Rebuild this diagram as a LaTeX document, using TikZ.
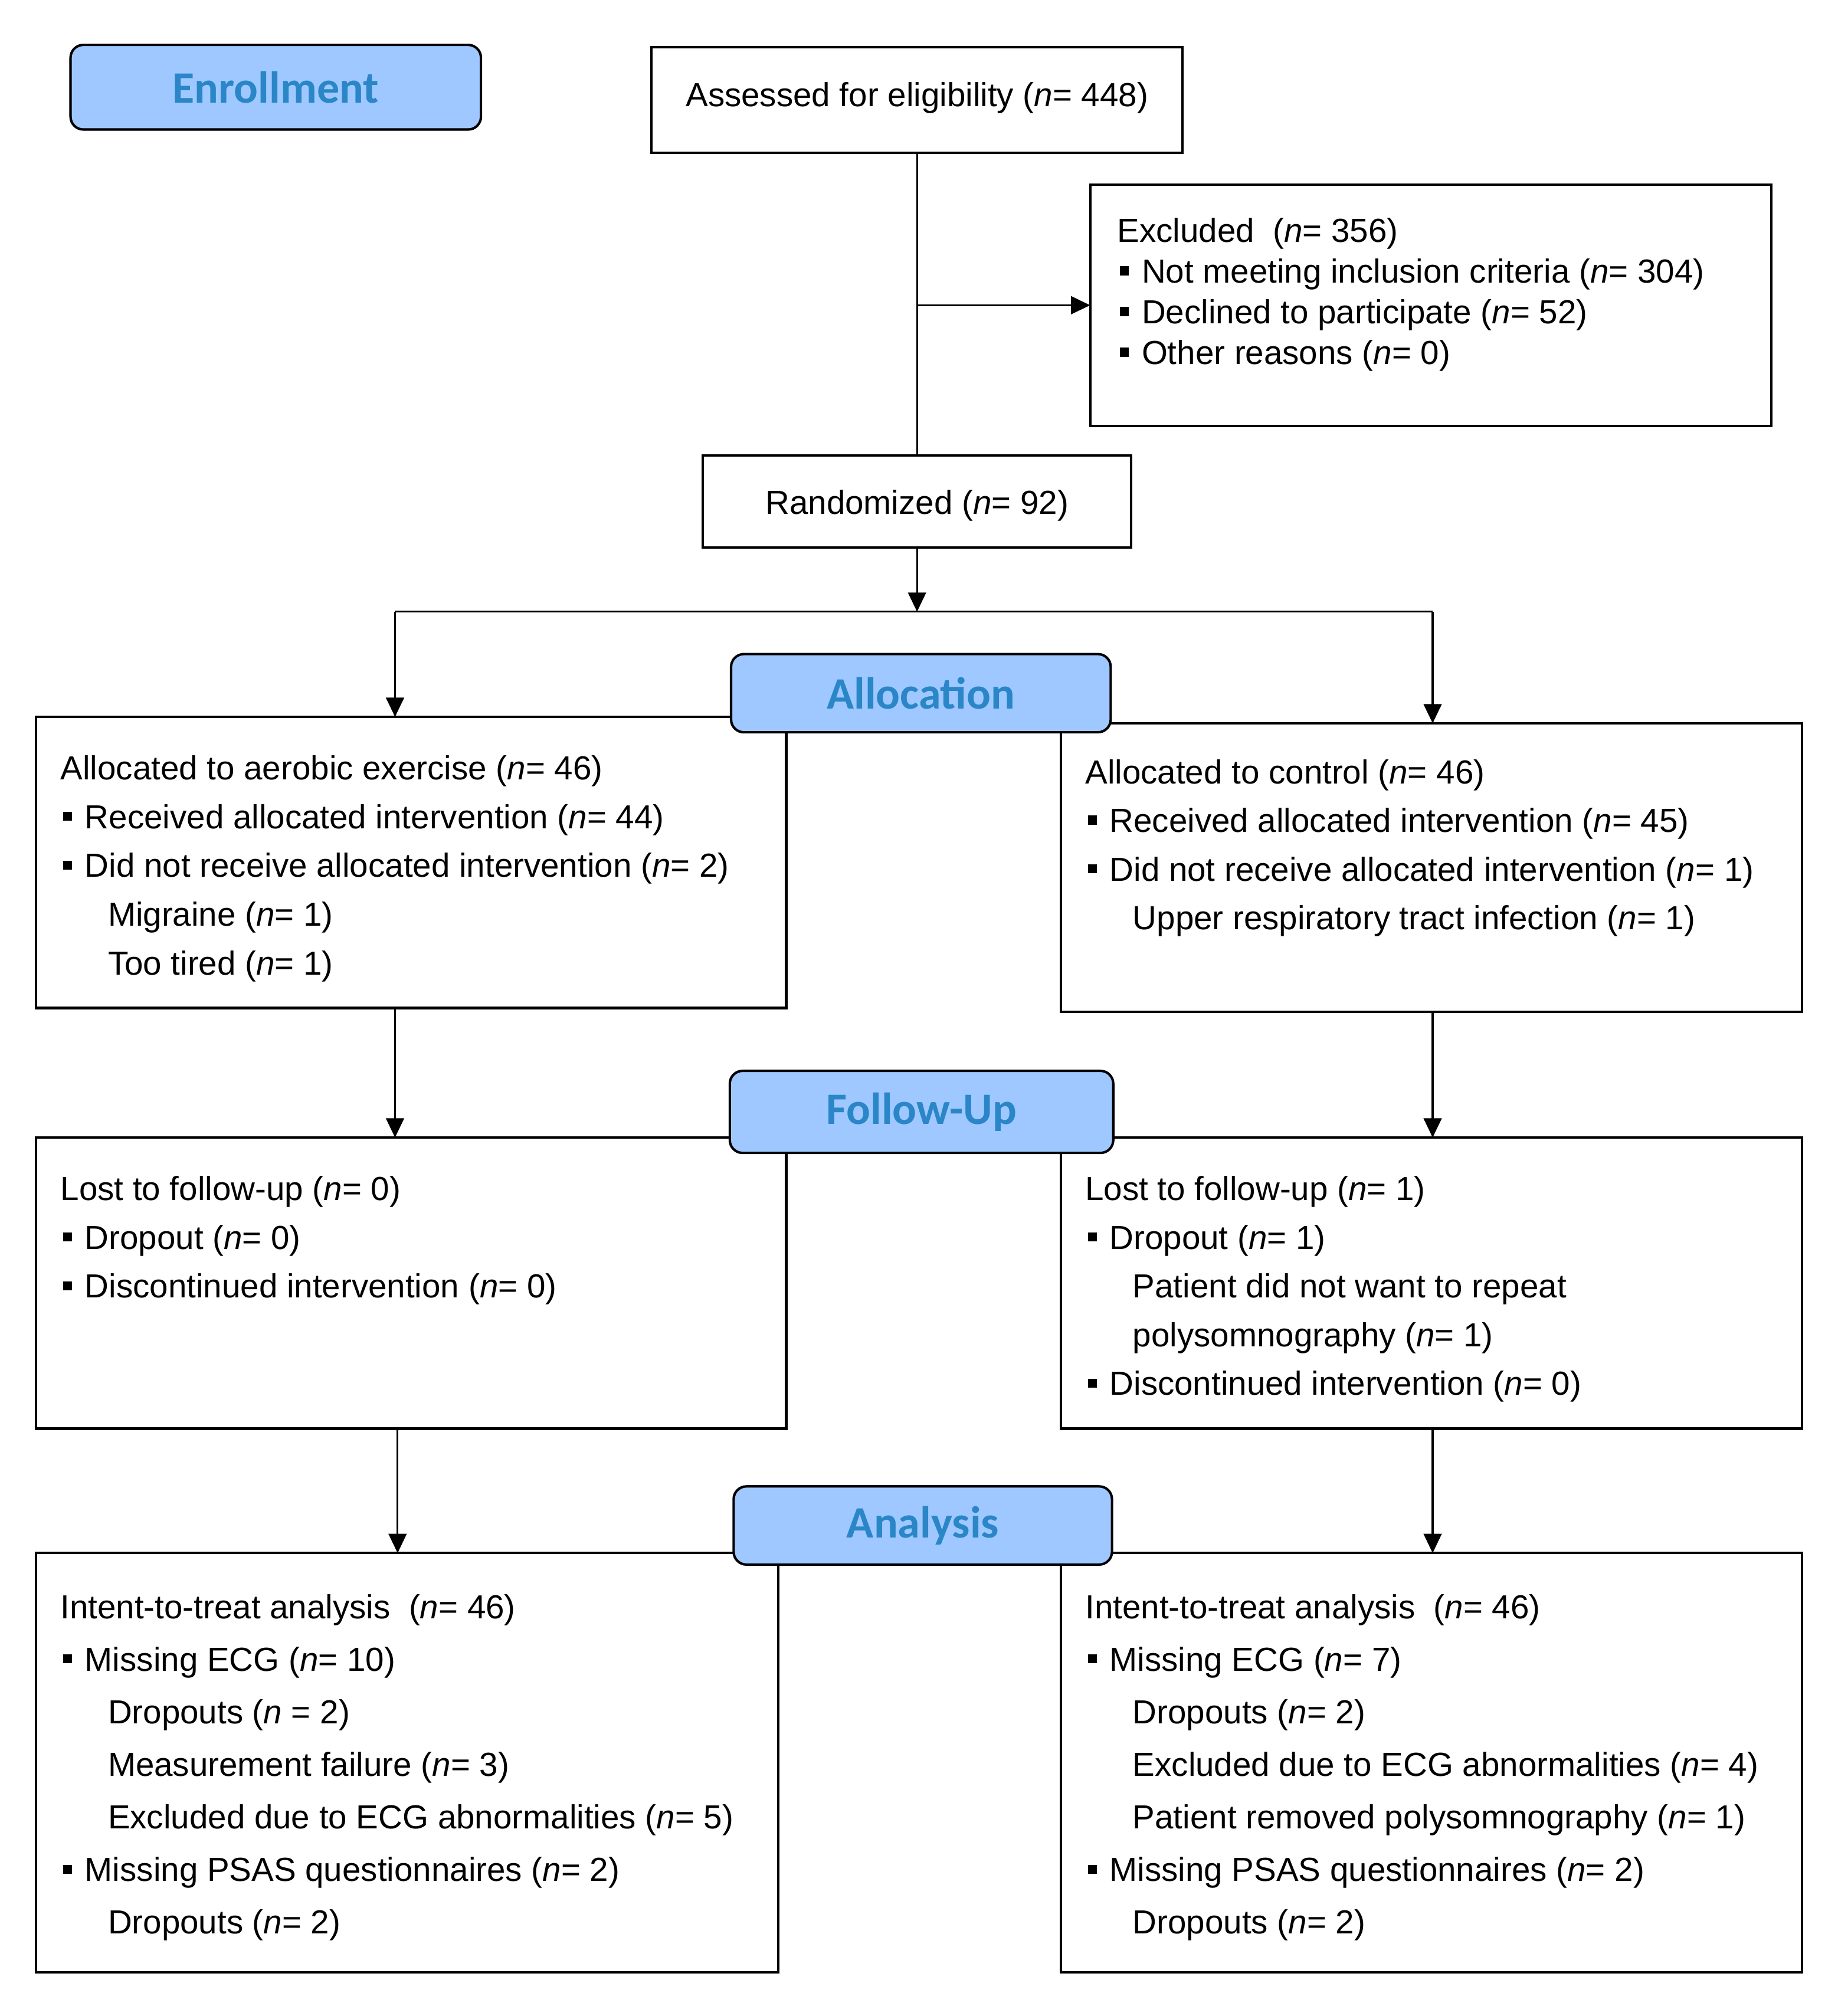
\documentclass[tikz,border=0pt]{standalone}
\usepackage{fontspec}
\setmainfont{Liberation Sans}
\newfontfamily\hdfont{Carlito}
\usetikzlibrary{arrows.meta}
\definecolor{hdfill}{HTML}{9EC8FF}
\definecolor{hdtext}{HTML}{2A86C6}
\newcommand{\bul}{\makebox[19pt][l]{\hspace{2pt}\rule[6pt]{7pt}{7pt}}}
\newcommand{\ind}{\hspace*{37pt}}
\newcommand{\nv}{\textit{n}}
\begin{document}
\begin{tikzpicture}[x=1pt,y=-1pt,
 box/.style={draw=black, line width=1.9pt, fill=white, rectangle, inner sep=0pt, outer sep=0pt, anchor=north west},
 phase/.style={draw=black, line width=1.9pt, fill=hdfill, rounded corners=10pt, inner sep=0pt, outer sep=0pt, font=\hdfont\bfseries\fontsize{35}{40}\selectfont, text=hdtext},
 txt/.style={anchor=base west, inner sep=0pt, align=left, font=\fontsize{26}{38}\selectfont},
 conn/.style={line width=1.4pt},
 arr/.style={conn, -{Triangle[length=15pt,width=14pt]}}]
\useasboundingbox (0,0) rectangle (1433,1572);
% boxes
\node[box, minimum width=414pt, minimum height=82pt] (assess) at (508,37) {};
\node[box, minimum width=531pt, minimum height=188pt] (excl) at (850,144) {};
\node[box, minimum width=334pt, minimum height=72pt] (rand) at (548,355) {};
\node[box, minimum width=585pt, minimum height=227pt] (al) at (28,559) {};
\node[box, minimum width=578pt, minimum height=225pt] (ar) at (827,564) {};
\node[box, minimum width=585pt, minimum height=227pt] (fl) at (28,887) {};
\node[box, minimum width=578pt, minimum height=227pt] (fr) at (827,887) {};
\node[box, minimum width=579pt, minimum height=327pt] (anl) at (28,1211) {};
\node[box, minimum width=578pt, minimum height=327pt] (anr) at (827,1211) {};
% connectors
\draw[conn] (assess.south) -- (rand.north);
\draw[arr] (assess.south |- excl.west) -- (excl.west);
\coordinate (split) at (715,477);
\coordinate (sl) at (308,477);
\coordinate (sr) at (1117,477);
\coordinate (sl2) at (310,477);
\draw[arr] (rand.south) -- (split);
\draw[conn] (sl) -- (sr);
\draw[arr] (sl) -- (sl |- al.north);
\draw[arr] (sr) -- (sr |- ar.north);
\draw[arr] (sl |- al.south) -- (sl |- fl.north);
\draw[arr] (sr |- ar.south) -- (sr |- fr.north);
\draw[arr] (sl2 |- fl.south) -- (sl2 |- anl.north);
\draw[arr] (sr |- fr.south) -- (sr |- anr.north);
% phase labels
\node[phase, minimum width=320pt, minimum height=66pt] (enr) at (215,68) {Enrollment};
\node[phase, minimum width=296pt, minimum height=61pt] (alloc) at (718,540.5) {Allocation};
\node[phase, minimum width=299pt, minimum height=64pt] (fup) at (718.5,867) {Follow-Up};
\node[phase, minimum width=295pt, minimum height=61pt] (anal) at (719.5,1189.5) {Analysis};
% texts (anchored at the baseline of their last line)
\node[txt, anchor=base] (tassess) at (715,83) {Assessed for eligibility (\nv= 448)};
\node[txt, font=\fontsize{26}{31.7}\selectfont] (texcl) at (871,284.1) {Excluded\ \ (\nv= 356)\\ \bul Not meeting inclusion criteria (\nv= 304)\\ \bul Declined to participate (\nv= 52)\\ \bul Other reasons (\nv= 0)};
\node[txt, anchor=base] (trand) at (715,401) {Randomized (\nv= 92)};
\node[txt] (tal) at (47,760) {Allocated to aerobic exercise (\nv= 46)\\ \bul Received allocated intervention (\nv= 44)\\ \bul Did not receive allocated intervention (\nv= 2)\\ \ind Migraine (\nv= 1)\\ \ind Too tired (\nv= 1)};
\node[txt] (tar) at (846,725) {Allocated to control (\nv= 46)\\ \bul Received allocated intervention (\nv= 45)\\ \bul Did not receive allocated intervention (\nv= 1)\\ \ind Upper respiratory tract infection (\nv= 1)};
\node[txt] (tfl) at (47,1012) {Lost to follow-up (\nv= 0)\\ \bul Dropout (\nv= 0)\\ \bul Discontinued intervention (\nv= 0)};
\node[txt] (tfr) at (846,1088) {Lost to follow-up (\nv= 1)\\ \bul Dropout (\nv= 1)\\ \ind Patient did not want to repeat\\ \ind polysomnography (\nv= 1)\\ \bul Discontinued intervention (\nv= 0)};
\node[txt, font=\fontsize{26}{41}\selectfont] (tanl) at (47,1508) {Intent-to-treat analysis\ \ (\nv= 46)\\ \bul Missing ECG (\nv= 10)\\ \ind Dropouts (\nv\ = 2)\\ \ind Measurement failure (\nv= 3)\\ \ind Excluded due to ECG abnormalities (\nv= 5)\\ \bul Missing PSAS questionnaires (\nv= 2)\\ \ind Dropouts (\nv= 2)};
\node[txt, font=\fontsize{26}{41}\selectfont] (tanr) at (846,1508) {Intent-to-treat analysis\ \ (\nv= 46)\\ \bul Missing ECG (\nv= 7)\\ \ind Dropouts (\nv= 2)\\ \ind Excluded due to ECG abnormalities (\nv= 4)\\ \ind Patient removed polysomnography (\nv= 1)\\ \bul Missing PSAS questionnaires (\nv= 2)\\ \ind Dropouts (\nv= 2)};
\end{tikzpicture}
\end{document}
